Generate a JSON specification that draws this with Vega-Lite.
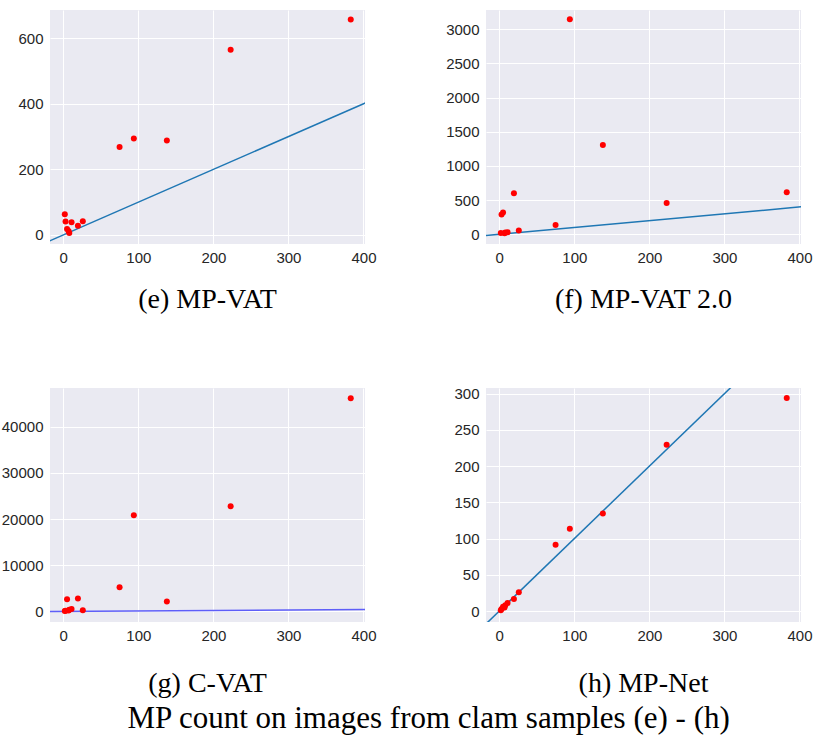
{
  "$schema": "https://vega.github.io/schema/vega-lite/v6.json",
  "padding": {"left": 1, "top": 10, "right": 12, "bottom": 8},
  "background": "white",
  "datasets": {
    "samples": [
      {"x": 2, "e": 63, "f": 20, "g": 100, "h": 1},
      {"x": 3, "e": 41, "f": 290, "g": 150, "h": 3},
      {"x": 5, "e": 18, "f": 320, "g": 2650, "h": 6},
      {"x": 7, "e": 12, "f": 15, "g": 200, "h": 5},
      {"x": 8, "e": 6, "f": 25, "g": 350, "h": 8},
      {"x": 11, "e": 39, "f": 30, "g": 500, "h": 11},
      {"x": 19.5, "e": 28, "f": 600, "g": 2800, "h": 16.5},
      {"x": 26, "e": 42, "f": 55, "g": 250, "h": 26},
      {"x": 75, "e": 268, "f": 137, "g": 5250, "h": 91.6},
      {"x": 94, "e": 294, "f": 3146, "g": 20860, "h": 113.6},
      {"x": 138, "e": 288, "f": 1307, "g": 2160, "h": 134.7},
      {"x": 223, "e": 565, "f": 459, "g": 22800, "h": 229.5},
      {"x": 383, "e": 657, "f": 615, "g": 46190, "h": 294}
    ],
    "diag": [
      {"x": -20, "y": -20},
      {"x": 410, "y": 410}
    ]
  },
  "title": {
    "text": "MP count on images from clam samples (e) - (h)",
    "orient": "bottom",
    "anchor": "middle",
    "fontSize": 31,
    "offset": 6,
    "dx": 22
  },
  "bounds": "flush",
  "columns": 2,
  "spacing": {"row": 144, "column": 121},
  "concat": [
    {
      "width": 315, "height": 234,
      "title": {"text": "(e) MP-VAT", "orient": "bottom", "offset": 21, "frame": "group"},
      "layer": [
        {
          "data": {"name": "diag"},
          "mark": {"type": "line", "color": "#1f77b4", "strokeWidth": 1.5, "clip": true},
          "encoding": {
            "x": {"field": "x", "type": "quantitative", "title": null, "scale": {"domain": [-17.7, 402], "nice": false, "zero": false}, "axis": {"values": [0, 100, 200, 300, 400], "format": "d"}},
            "y": {"field": "y", "type": "quantitative", "title": null, "scale": {"domain": [-27.5, 686], "nice": false, "zero": false}, "axis": {"values": [0, 200, 400, 600], "format": "d"}}
          }
        },
        {
          "data": {"name": "samples"},
          "mark": {"type": "circle", "color": "#ff0000", "opacity": 1, "size": 36},
          "encoding": {
            "x": {"field": "x", "type": "quantitative", "title": null, "scale": {"domain": [-17.7, 402], "nice": false, "zero": false}, "axis": {"values": [0, 100, 200, 300, 400], "format": "d"}},
            "y": {"field": "e", "type": "quantitative", "title": null, "scale": {"domain": [-27.5, 686], "nice": false, "zero": false}, "axis": {"values": [0, 200, 400, 600], "format": "d"}}
          }
        }
      ]
    },
    {
      "width": 315, "height": 234,
      "title": {"text": "(f) MP-VAT 2.0", "orient": "bottom", "offset": 21, "frame": "group"},
      "layer": [
        {
          "data": {"name": "diag"},
          "mark": {"type": "line", "color": "#1f77b4", "strokeWidth": 1.5, "clip": true},
          "encoding": {
            "x": {"field": "x", "type": "quantitative", "title": null, "scale": {"domain": [-17.7, 402], "nice": false, "zero": false}, "axis": {"values": [0, 100, 200, 300, 400], "format": "d"}},
            "y": {"field": "y", "type": "quantitative", "title": null, "scale": {"domain": [-142, 3283], "nice": false, "zero": false}, "axis": {"values": [0, 500, 1000, 1500, 2000, 2500, 3000], "format": "d"}}
          }
        },
        {
          "data": {"name": "samples"},
          "mark": {"type": "circle", "color": "#ff0000", "opacity": 1, "size": 36},
          "encoding": {
            "x": {"field": "x", "type": "quantitative", "title": null, "scale": {"domain": [-17.7, 402], "nice": false, "zero": false}, "axis": {"values": [0, 100, 200, 300, 400], "format": "d"}},
            "y": {"field": "f", "type": "quantitative", "title": null, "scale": {"domain": [-142, 3283], "nice": false, "zero": false}, "axis": {"values": [0, 500, 1000, 1500, 2000, 2500, 3000], "format": "d"}}
          }
        }
      ]
    },
    {
      "width": 315, "height": 234,
      "title": {"text": "(g) C-VAT", "orient": "bottom", "offset": 27, "frame": "group"},
      "layer": [
        {
          "data": {"name": "diag"},
          "mark": {"type": "line", "color": "#5e5ef8", "strokeWidth": 1.5, "clip": true},
          "encoding": {
            "x": {"field": "x", "type": "quantitative", "title": null, "scale": {"domain": [-17.7, 402], "nice": false, "zero": false}, "axis": {"values": [0, 100, 200, 300, 400], "format": "d"}},
            "y": {"field": "y", "type": "quantitative", "title": null, "scale": {"domain": [-2310, 48430], "nice": false, "zero": false}, "axis": {"values": [0, 10000, 20000, 30000, 40000], "format": "d"}}
          }
        },
        {
          "data": {"name": "samples"},
          "mark": {"type": "circle", "color": "#ff0000", "opacity": 1, "size": 36},
          "encoding": {
            "x": {"field": "x", "type": "quantitative", "title": null, "scale": {"domain": [-17.7, 402], "nice": false, "zero": false}, "axis": {"values": [0, 100, 200, 300, 400], "format": "d"}},
            "y": {"field": "g", "type": "quantitative", "title": null, "scale": {"domain": [-2310, 48430], "nice": false, "zero": false}, "axis": {"values": [0, 10000, 20000, 30000, 40000], "format": "d"}}
          }
        }
      ]
    },
    {
      "width": 315, "height": 234,
      "title": {"text": "(h) MP-Net", "orient": "bottom", "offset": 27, "frame": "group"},
      "layer": [
        {
          "data": {"name": "diag"},
          "mark": {"type": "line", "color": "#1f77b4", "strokeWidth": 1.5, "clip": true},
          "encoding": {
            "x": {"field": "x", "type": "quantitative", "title": null, "scale": {"domain": [-17.7, 402], "nice": false, "zero": false}, "axis": {"values": [0, 100, 200, 300, 400], "format": "d"}},
            "y": {"field": "y", "type": "quantitative", "title": null, "scale": {"domain": [-15.1, 307.8], "nice": false, "zero": false}, "axis": {"values": [0, 50, 100, 150, 200, 250, 300], "format": "d"}}
          }
        },
        {
          "data": {"name": "samples"},
          "mark": {"type": "circle", "color": "#ff0000", "opacity": 1, "size": 36},
          "encoding": {
            "x": {"field": "x", "type": "quantitative", "title": null, "scale": {"domain": [-17.7, 402], "nice": false, "zero": false}, "axis": {"values": [0, 100, 200, 300, 400], "format": "d"}},
            "y": {"field": "h", "type": "quantitative", "title": null, "scale": {"domain": [-15.1, 307.8], "nice": false, "zero": false}, "axis": {"values": [0, 50, 100, 150, 200, 250, 300], "format": "d"}}
          }
        }
      ]
    }
  ],
  "config": {
    "view": {"fill": "#EAEAF2", "stroke": null},
    "axis": {
      "domain": false,
      "ticks": false,
      "grid": true,
      "gridColor": "#ffffff",
      "gridWidth": 1,
      "gridOpacity": 1,
      "labelFont": "Liberation Sans",
      "labelFontSize": 15,
      "labelColor": "#262626",
      "labelPadding": 7,
      "labelOverlap": false,
      "labelBound": false,
      "labelFlush": false
    },
    "axisX": {"labelPadding": 6},
    "title": {
      "font": "Liberation Serif",
      "fontSize": 28,
      "fontWeight": "normal",
      "color": "#000000"
    }
  }
}
